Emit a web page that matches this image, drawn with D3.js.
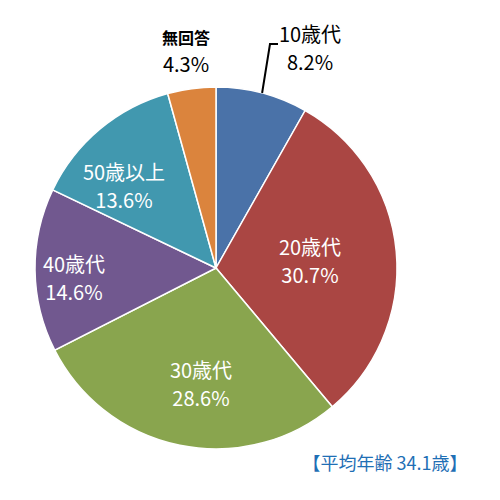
<!DOCTYPE html>
<html><head><meta charset="utf-8">
<script src="https://cdn.jsdelivr.net/npm/d3@7"></script>
<style>body{margin:0;background:#fff}text{font-family:"Noto Sans CJK JP","Noto Sans",sans-serif}</style>
</head><body><svg></svg>
<script>
const width = 500, height = 500;
const labels = ['10歳代', '20歳代', '30歳代', '40歳代', '50歳以上', '無回答'];
const values = [8.2, 30.7, 28.6, 14.6, 13.6, 4.3];
const colors = ['#4a72a8', '#aa4643', '#89a54e', '#71588f', '#4198af', '#db843d'];
const data = labels.map((l, i) => ({label: l, value: values[i], color: colors[i]}));

const svg = d3.select('svg').attr('width', width).attr('height', height);
const cx = 216, cy = 268, r = 181;
const g = svg.append('g').attr('transform', `translate(${cx},${cy})`);

const pie = d3.pie().value(d => d.value).sort(null);
const arc = d3.arc().innerRadius(0).outerRadius(r);
const arcs = pie(data);

g.selectAll('path').data(arcs).enter().append('path')
  .attr('d', arc)
  .style('fill', d => d.data.color)
  .style('stroke', '#fff').style('stroke-width', 1.5);

// label positions (offsets from centre)
const pos = [[94, -226], [94, -13], [-15, 110], [-142, 4], [-92, -88], [-30, -224]];
const txt = g.selectAll('.lab').data(arcs).enter().append('text')
  .attr('text-anchor', 'middle')
  .style('font-size', '20px')
  .style('fill', (d, i) => (i === 0 || i === 5) ? '#000' : '#fff');
txt.append('tspan').attr('x', (d, i) => pos[i][0]).attr('y', (d, i) => pos[i][1])
  .style('font-weight', (d, i) => i === 5 ? 'bold' : 'normal')
  .style('font-size', (d, i) => i === 5 ? '16px' : '20px')
  .text(d => d.data.label);
txt.append('tspan').attr('x', (d, i) => pos[i][0]).attr('y', (d, i) => pos[i][1] + 28)
  .text(d => d.data.value.toFixed(1) + '%');

// leader line for 10歳代
const a0 = arcs[0], mid = (a0.startAngle + a0.endAngle) / 2;
g.append('polyline')
  .attr('points', [[Math.sin(mid) * r, -Math.cos(mid) * r], [54, -224], [62, -224]].map(p => p.join(',')).join(' '))
  .style('fill', 'none').style('stroke', '#000').style('stroke-width', 2);

svg.append('text').attr('x', 385).attr('y', 470).attr('text-anchor', 'middle')
  .style('font-size', '18px').style('fill', '#1f6fb5').text('【平均年齢 34.1歳】');
</script></body></html>
